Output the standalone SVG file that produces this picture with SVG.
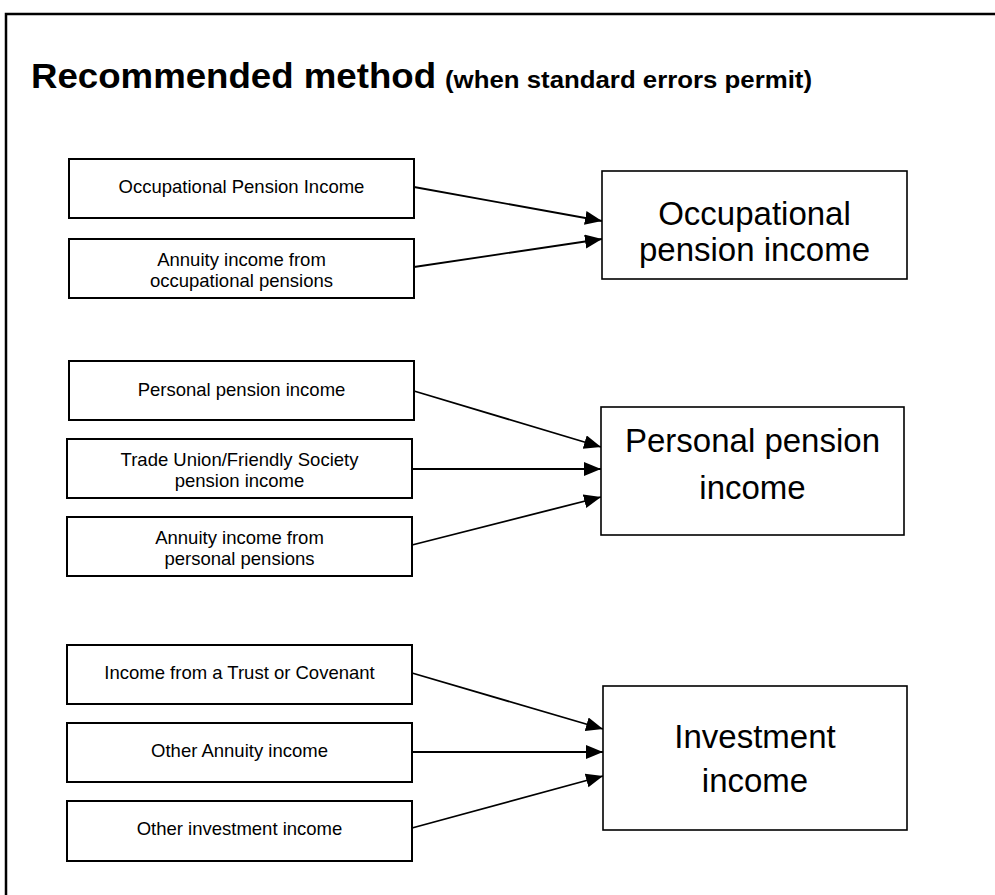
<svg xmlns="http://www.w3.org/2000/svg" width="995" height="895" viewBox="0 0 995 895">
<defs>
<style>
.frame{fill:none;stroke:#000;stroke-width:2.5}
.src{fill:#fff;stroke:#000;stroke-width:2}
.dst{fill:#fff;stroke:#000;stroke-width:1.6}
.s{font-family:"Liberation Sans",Arial,sans-serif;font-size:18.5px;fill:#000;text-anchor:middle}
.d{font-family:"Liberation Sans",Arial,sans-serif;font-size:33px;fill:#000;text-anchor:middle}
.t1{font-family:"Liberation Sans",Arial,sans-serif;font-size:35px;font-weight:bold;fill:#000}
.t2{font-family:"Liberation Sans",Arial,sans-serif;font-size:24px;font-weight:bold;fill:#000}
.c{stroke:#000;stroke-width:1.8;fill:none;marker-end:url(#ah)}
</style>
<marker id="ah" markerUnits="userSpaceOnUse" markerWidth="18" markerHeight="15" refX="17" refY="7" orient="auto">
<path d="M0,0 L17,7 L0,14 z" fill="#000"/>
</marker>
</defs>
<rect width="995" height="895" fill="#fff"/>
<rect class="frame" x="6" y="14" width="1000" height="900"/>
<g id="title">
<text class="t1" x="31" y="88" textLength="405" lengthAdjust="spacingAndGlyphs">Recommended method</text>
<text class="t2" x="445" y="88" textLength="367" lengthAdjust="spacingAndGlyphs">(when standard errors permit)</text>
</g>
<g id="connectors">
<line class="c" x1="414" y1="187" x2="602" y2="221"/>
<line class="c" x1="414" y1="267" x2="602" y2="239"/>
<line class="c" x1="414" y1="391" x2="601" y2="447"/>
<line class="c" x1="412" y1="469" x2="601" y2="469"/>
<line class="c" x1="412" y1="545" x2="601" y2="497"/>
<line class="c" x1="412" y1="673" x2="603" y2="729"/>
<line class="c" x1="412" y1="752" x2="603" y2="752"/>
<line class="c" x1="412" y1="828" x2="603" y2="776"/>
</g>
<g id="n1"><rect class="src" x="69" y="159" width="345" height="59"/><text class="s" x="241.5" y="193">Occupational Pension Income</text></g>
<g id="n2"><rect class="src" x="69" y="239" width="345" height="59"/><text class="s" x="241.5" y="266">Annuity income from</text><text class="s" x="241.5" y="287">occupational pensions</text></g>
<g id="n3"><rect class="src" x="69" y="361" width="345" height="59"/><text class="s" x="241.5" y="396">Personal pension income</text></g>
<g id="n4"><rect class="src" x="67" y="439" width="345" height="59"/><text class="s" x="239.5" y="466">Trade Union/Friendly Society</text><text class="s" x="239.5" y="487">pension income</text></g>
<g id="n5"><rect class="src" x="67" y="517" width="345" height="59"/><text class="s" x="239.5" y="544">Annuity income from</text><text class="s" x="239.5" y="565">personal pensions</text></g>
<g id="n6"><rect class="src" x="67" y="645" width="345" height="59"/><text class="s" x="239.5" y="679">Income from a Trust or Covenant</text></g>
<g id="n7"><rect class="src" x="67" y="723" width="345" height="59"/><text class="s" x="239.5" y="757">Other Annuity income</text></g>
<g id="n8"><rect class="src" x="67" y="801" width="345" height="60"/><text class="s" x="239.5" y="835">Other investment income</text></g>
<g id="t1"><rect class="dst" x="602" y="171" width="305" height="108"/><text class="d" x="754.5" y="225">Occupational</text><text class="d" x="754.5" y="261">pension income</text></g>
<g id="t2"><rect class="dst" x="601" y="407" width="303" height="128"/><text class="d" x="752.5" y="452">Personal pension</text><text class="d" x="752.5" y="499">income</text></g>
<g id="t3"><rect class="dst" x="603" y="686" width="304" height="144"/><text class="d" x="755" y="748">Investment</text><text class="d" x="755" y="792">income</text></g>
</svg>
